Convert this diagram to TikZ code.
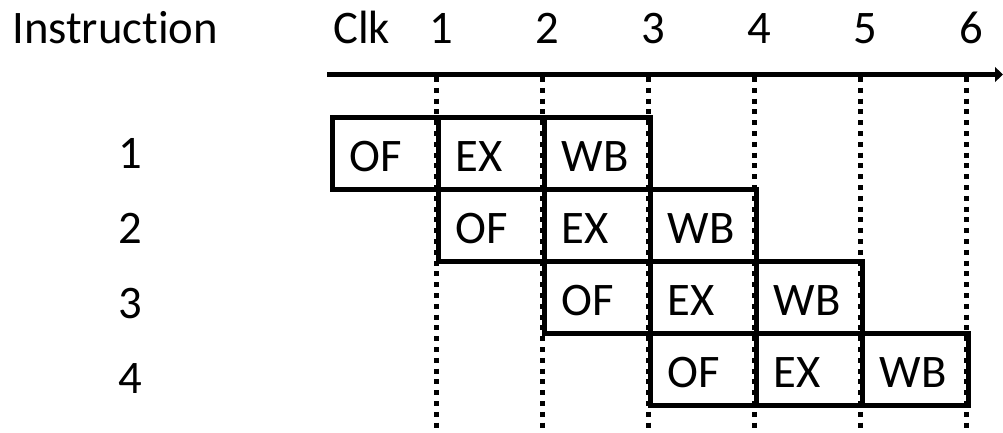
\documentclass[tikz,border=0pt]{standalone}
\usepackage{fontspec}
\setmainfont[Ligatures=NoCommon]{Carlito}
\usetikzlibrary{arrows.meta}
\begin{document}
\begin{tikzpicture}[x=0.75pt,y=-0.75pt,
  every node/.style={font=\fontsize{35}{42}\selectfont},
  lbl/.style={anchor=base, inner sep=0pt},
  cell/.style={draw, line width=3.75pt, minimum width=79.5pt, minimum height=54pt,
    inner xsep=12.75pt, inner ysep=0pt, text width=54pt, align=left,
    text height=27pt, text depth=0pt, anchor=north west},
  grid/.style={line width=3.75pt, dash pattern=on 3.75pt off 4.35pt},
  axis/.style={line width=3.75pt, -{Triangle[length=6pt,width=11pt]}}]
\useasboundingbox (0,0) rectangle (1003,432);
% column dotted lines
\foreach \k in {1,...,6}{
  \coordinate (t\k) at ({330+106*\k},77);
  \coordinate (b\k) at ({330+106*\k},432);
  \draw[grid] (t\k) -- (b\k);
}
% axis
\coordinate (ax0) at (327,74.5);
\coordinate (ax1) at (1003,74.5);
\draw[axis] (ax0) -- (ax1);
% header
\node[lbl, anchor=base west] (instr) at (12,43) {Instruction};
\node[lbl, anchor=base west] (clk) at (333,43) {Clk};
\foreach \k in {1,...,6}{
  \node[lbl] (n\k) at ({330+106*\k+5},43) {\k};
}
% rows
\foreach \r in {1,...,4}{
  \node[lbl] (r\r) at (130,{168+75*(\r-1)}) {\r};
  \node[cell] (of\r) at ({330+106*(\r-1)},{115+72*(\r-1)}) {OF};
  \node[cell] (ex\r) at ({330+106*\r},{115+72*(\r-1)}) {EX};
  \node[cell] (wb\r) at ({330+106*(\r+1)},{115+72*(\r-1)}) {WB};
}
\end{tikzpicture}
\end{document}
